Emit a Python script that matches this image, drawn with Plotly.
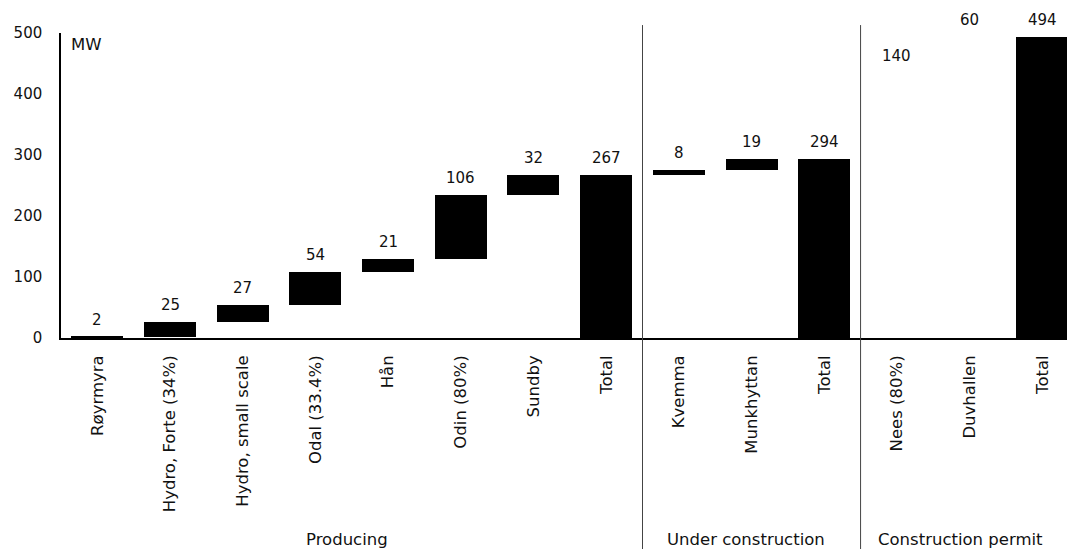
import plotly.graph_objects as go

# Capacity bridge (MW) by project and status
categories = ["Røyrmyra", "Hydro, Forte (34%)", "Hydro, small scale", "Odal (33.4%)",
              "Hån", "Odin (80%)", "Sundby", "Total",
              "Kvemma", "Munkhyttan", "Total",
              "Nees (80%)", "Duvhallen", "Total"]
values = [2, 25, 27, 54, 21, 106, 32, 267, 8, 19, 294, 140, 60, 494]
is_total = [False, False, False, False, False, False, False, True,
            False, False, True, False, False, True]
groups = ["Producing"] * 8 + ["Under construction"] * 3 + ["Construction permit"] * 3
group_names = ["Producing", "Under construction", "Construction permit"]
y_ticks = [0, 100, 200, 300, 400, 500]

FONT = "DejaVu Sans"
INK = "#111111"
NUM_SIZE = 15
TEXT_SIZE = 16.5

# floating bar bases: increments start where the previous bar ended, totals start at zero
bases = []
running = 0
for v, tot in zip(values, is_total):
    if tot:
        bases.append(0)
        running = v
    else:
        bases.append(running)
        running += v

# permitted projects are shown only by their labels
colors = ["rgba(0,0,0,0)" if (g == "Construction permit" and not t) else "black"
          for g, t in zip(groups, is_total)]

x = list(range(len(categories)))

fig = go.Figure()
fig.add_trace(go.Bar(
    x=x, y=values, base=bases, width=0.715,
    marker=dict(color=colors, line=dict(width=0)),
    hoverinfo="skip", showlegend=False,
))

annotations = []
for xi, b, v in zip(x, bases, values):
    annotations.append(dict(
        x=xi, y=b + v, xref="x", yref="y", text=str(v), showarrow=False,
        yanchor="bottom", yshift=6, font=dict(family=FONT, size=NUM_SIZE, color=INK),
    ))

annotations.append(dict(
    x=-0.5, y=500, xref="x", yref="y", text="MW", showarrow=False,
    xanchor="left", yanchor="top", xshift=8, font=dict(family=FONT, size=TEXT_SIZE, color=INK),
))

# group captions under the category labels
first_idx = {g: groups.index(g) for g in group_names}
last_idx = {g: len(groups) - 1 - groups[::-1].index(g) for g in group_names}
group_x = {"Producing": (first_idx["Producing"] + last_idx["Producing"]) / 2 - 0.07,
           "Under construction": (first_idx["Under construction"] + last_idx["Under construction"]) / 2 - 0.08,
           "Construction permit": (first_idx["Construction permit"] + last_idx["Construction permit"]) / 2 - 0.13}
for g in group_names:
    annotations.append(dict(
        x=group_x[g], y=-0.662, xref="x", yref="paper", text=g, showarrow=False,
        xanchor="center", yanchor="middle", font=dict(family=FONT, size=TEXT_SIZE, color=INK),
    ))

# vertical separators between the status groups
shapes = []
for g in group_names[1:]:
    xs = first_idx[g] - 0.5
    shapes.append(dict(type="line", xref="x", yref="paper", x0=xs, x1=xs,
                       y0=-0.70, y1=1.026, line=dict(color="#444444", width=1)))

fig.update_layout(
    width=1067, height=549,
    margin=dict(l=61, r=0, t=33, b=211),
    paper_bgcolor="white", plot_bgcolor="white",
    font=dict(family=FONT, size=NUM_SIZE, color=INK),
    annotations=annotations, shapes=shapes,
    bargap=0,
)
fig.update_xaxes(
    range=[-0.5, 13.34], tickvals=x, ticktext=categories, tickangle=-90,
    showline=True, linecolor="black", linewidth=1.5, ticks="",
    showgrid=False, zeroline=False, ticklabelstandoff=9,
    tickfont=dict(family=FONT, size=TEXT_SIZE, color=INK),
)
fig.update_yaxes(
    range=[0, 500], tickvals=y_ticks, showline=True, linecolor="black", linewidth=1.5,
    ticks="", showgrid=False, zeroline=False, ticklabelstandoff=14,
    tickfont=dict(family=FONT, size=NUM_SIZE, color=INK),
)

fig.write_html("out.html")
